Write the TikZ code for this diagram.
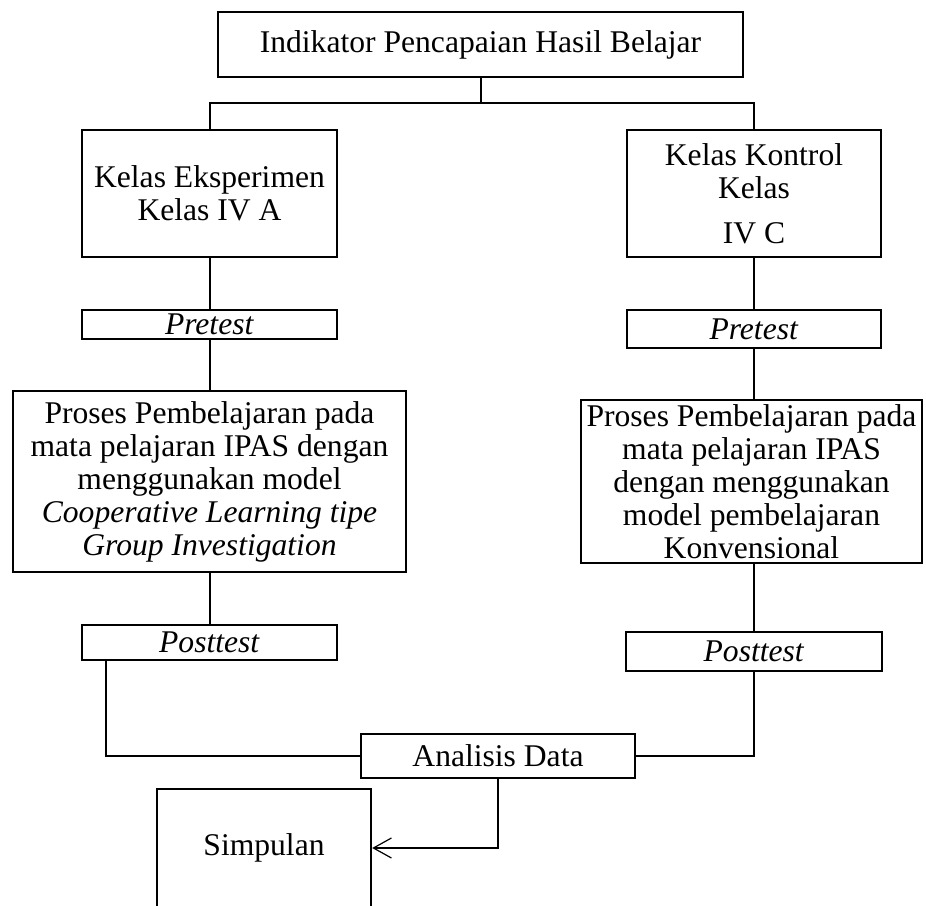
\documentclass[tikz,border=0pt]{standalone}
\usepackage{fontspec}
\setmainfont{Liberation Serif}
\usetikzlibrary{arrows.meta}

\tikzset{
	box/.style={draw,line width=1.2pt,inner sep=0pt,align=center},
	link/.style={line width=1pt},
	thinlink/.style={line width=0.6pt,-{Straight Barb[length=9pt,width=10pt]}}
}

\begin{document}
\begin{tikzpicture}[x=0.5pt,y=-0.5pt,font=\fontsize{15.8}{16.5}\selectfont]
	\useasboundingbox (0,0) rectangle (926,905);
	\clip (0,0) rectangle (926,905);

	\node[box,minimum width=262.5pt,minimum height=32.5pt] (top) at (480.5,44.5) {Indikator Pencapaian Hasil Belajar};
	\coordinate (split) at (480.5,103);

	\node[box,minimum width=127.5pt,minimum height=63.5pt] (eks) at (209.5,193.5) {Kelas Eksperimen\\Kelas IV A};
	\node[box,minimum width=127pt,minimum height=63.5pt] (kontrol) at (754,193.5) {Kelas Kontrol\\Kelas\\[6pt]IV C};

	\node[box,minimum width=127.5pt,minimum height=14.5pt] (pre1) at (209.5,324.5) {\textit{Pretest}};
	\node[box,minimum width=127pt,minimum height=19pt] (pre2) at (754,329) {\textit{Pretest}};

	\node[box,minimum width=196.5pt,minimum height=90.5pt] (proses1) at (209.5,481.5) {Proses Pembelajaran pada\\mata pelajaran IPAS dengan\\menggunakan model\\\textit{Cooperative Learning tipe}\\\textit{Group Investigation}};
	\node[box,minimum width=170.5pt,minimum height=81.5pt] (proses2) at (751.5,481.5) {Proses Pembelajaran pada\\mata pelajaran IPAS\\dengan menggunakan\\model pembelajaran\\Konvensional};

	\node[box,minimum width=127.5pt,minimum height=17.5pt] (post1) at (209.5,642.5) {\textit{Posttest}};
	\node[box,minimum width=128pt,minimum height=19.5pt] (post2) at (754,651.5) {\textit{Posttest}};

	\node[box,minimum width=137pt,minimum height=22pt] (analisis) at (498,756) {Analisis Data};
	\node[box,minimum width=107pt,minimum height=59pt] (simpulan) at (264,848) {Simpulan};

	% cabang atas
	\draw[link] (top.south) -- (split);
	\draw[link] (eks.north) |- (split) -| (kontrol.north);

	% kolom kiri
	\draw[link] (eks.south) -- (pre1.north);
	\draw[link] (pre1.south) -- (proses1.north);
	\draw[link] (proses1.south) -- (post1.north);
	\path (post1.south west) ++(25,0) coordinate (p1);
	\draw[link] (p1) |- (analisis.west);

	% kolom kanan
	\draw[link] (kontrol.south) -- (pre2.north);
	\draw[link] (pre2.south) -- (pre2.south |- proses2.north);
	\draw[link] (post2.north |- proses2.south) -- (post2.north);
	\draw[link] (post2.south) |- (analisis.east);

	\draw[thinlink] (analisis.south) |- (simpulan.east);
\end{tikzpicture}
\end{document}
